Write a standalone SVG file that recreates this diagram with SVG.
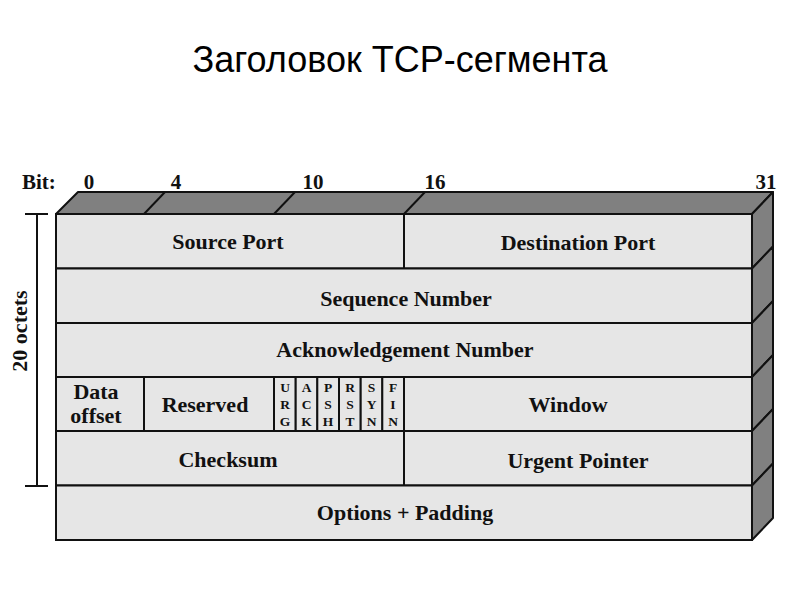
<svg xmlns="http://www.w3.org/2000/svg" width="800" height="600" viewBox="0 0 800 600">
<style>
.face{fill:#e6e6e6;stroke:#111;stroke-width:2}
.dark{fill:#808080;stroke:#111;stroke-width:2;stroke-linejoin:round}
.ln{stroke:#111;stroke-width:2;fill:none}
.lbl{font-family:"Liberation Serif","Times New Roman",serif;font-weight:bold;font-size:22px;fill:#111;text-anchor:middle}
.bit{font-family:"Liberation Serif","Times New Roman",serif;font-weight:bold;font-size:21px;fill:#111}
.flag{font-family:"Liberation Serif","Times New Roman",serif;font-weight:bold;font-size:13.5px;fill:#111;text-anchor:middle}
.title{font-family:"Liberation Sans",Arial,sans-serif;font-size:36px;fill:#000;text-anchor:middle}
</style>
<rect width="800" height="600" fill="#fff"/>
<text class="title" x="400" y="72">Заголовок TCP-сегмента</text>

<g id="bit-labels">
<text class="bit" x="22" y="189">Bit:</text>
<text class="bit" x="89" y="189" text-anchor="middle">0</text>
<text class="bit" x="176" y="189" text-anchor="middle">4</text>
<text class="bit" x="313" y="189" text-anchor="middle">10</text>
<text class="bit" x="435" y="189" text-anchor="middle">16</text>
<text class="bit" x="766" y="189" text-anchor="middle">31</text>
</g>

<g id="top-face">
<polygon class="dark" points="56,214 78,192 773,192 752,214"/>
<line class="ln" x1="144" y1="214" x2="165" y2="192"/>
<line class="ln" x1="274" y1="214" x2="295" y2="192"/>
<line class="ln" x1="404" y1="214" x2="425" y2="192"/>
</g>

<g id="side-face">
<polygon class="dark" points="752,214 773,192 773,246.5 752,268.5"/>
<polygon class="dark" points="752,268.5 773,246.5 773,301 752,323"/>
<polygon class="dark" points="752,323 773,301 773,355 752,377"/>
<polygon class="dark" points="752,377 773,355 773,409 752,431"/>
<polygon class="dark" points="752,431 773,409 773,463.5 752,485.5"/>
<polygon class="dark" points="752,485.5 773,463.5 773,518 752,540"/>
</g>

<g id="source-port">
<rect class="face" x="56" y="214" width="348" height="54.5"/>
<text class="lbl" x="228" y="249">Source Port</text>
</g>
<g id="destination-port">
<rect class="face" x="404" y="214" width="348" height="54.5"/>
<text class="lbl" x="578" y="250">Destination Port</text>
</g>
<g id="sequence-number">
<rect class="face" x="56" y="268.5" width="696" height="54.5"/>
<text class="lbl" x="406" y="306">Sequence Number</text>
</g>
<g id="acknowledgement-number">
<rect class="face" x="56" y="323" width="696" height="54"/>
<text class="lbl" x="405" y="357">Acknowledgement Number</text>
</g>
<g id="data-offset">
<rect class="face" x="56" y="377" width="88" height="54"/>
<text class="lbl" x="96" y="399">Data</text>
<text class="lbl" x="96" y="423">offset</text>
</g>
<g id="reserved">
<rect class="face" x="144" y="377" width="130" height="54"/>
<text class="lbl" x="205" y="412">Reserved</text>
</g>
<g id="flags">
<rect class="face" x="274" y="377" width="21.7" height="54"/>
<rect class="face" x="295.7" y="377" width="21.7" height="54"/>
<rect class="face" x="317.3" y="377" width="21.7" height="54"/>
<rect class="face" x="339" y="377" width="21.7" height="54"/>
<rect class="face" x="360.7" y="377" width="21.7" height="54"/>
<rect class="face" x="382.3" y="377" width="21.7" height="54"/>
<text class="flag" x="285" y="392">U</text><text class="flag" x="285" y="409">R</text><text class="flag" x="285" y="426">G</text>
<text class="flag" x="306.5" y="392">A</text><text class="flag" x="306.5" y="409">C</text><text class="flag" x="306.5" y="426">K</text>
<text class="flag" x="328" y="392">P</text><text class="flag" x="328" y="409">S</text><text class="flag" x="328" y="426">H</text>
<text class="flag" x="350" y="392">R</text><text class="flag" x="350" y="409">S</text><text class="flag" x="350" y="426">T</text>
<text class="flag" x="371.5" y="392">S</text><text class="flag" x="371.5" y="409">Y</text><text class="flag" x="371.5" y="426">N</text>
<text class="flag" x="393" y="392">F</text><text class="flag" x="393" y="409">I</text><text class="flag" x="393" y="426">N</text>
</g>
<g id="window">
<rect class="face" x="404" y="377" width="348" height="54"/>
<text class="lbl" x="568" y="412">Window</text>
</g>
<g id="checksum">
<rect class="face" x="56" y="431" width="348" height="54.5"/>
<text class="lbl" x="228" y="467">Checksum</text>
</g>
<g id="urgent-pointer">
<rect class="face" x="404" y="431" width="348" height="54.5"/>
<text class="lbl" x="578" y="468">Urgent Pointer</text>
</g>
<g id="options-padding">
<rect class="face" x="56" y="485.5" width="696" height="54.5"/>
<text class="lbl" x="405" y="520">Options + Padding</text>
</g>

<g id="octets-brace">
<line class="ln" x1="37" y1="214" x2="37" y2="486"/>
<line class="ln" x1="25" y1="214" x2="48" y2="214"/>
<line class="ln" x1="25" y1="486" x2="48" y2="486"/>
<text class="lbl" font-size="21" transform="translate(27,331) rotate(-90)">20 octets</text>
</g>
</svg>
